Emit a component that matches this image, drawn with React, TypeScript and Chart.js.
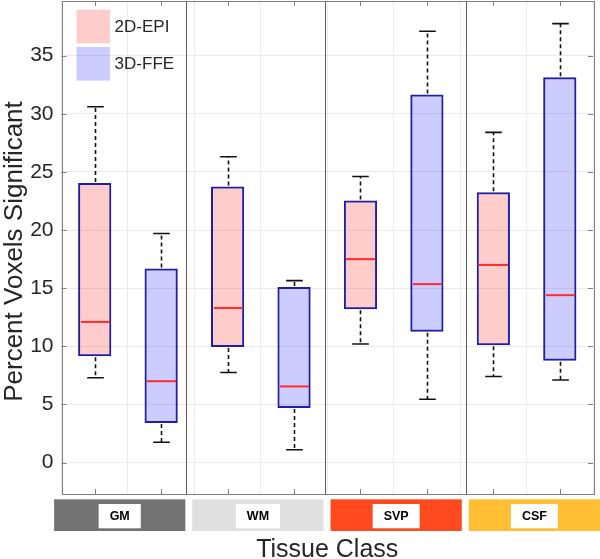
import React, { useEffect, useRef } from 'react';
import { Chart, registerables } from 'chart.js';

Chart.register(...registerables);

// ---------- data ----------
const tissueClasses = ['GM', 'WM', 'SVP', 'CSF'];
const stripColors = ['#737373', '#e0e0e0', '#ff4a1f', '#ffbe33'];
const seriesNames = ['2D-EPI', '3D-FFE'];
const seriesFills = ['rgba(255,0,0,0.2)', 'rgba(0,0,255,0.2)'];

const epiPositions = [1, 3, 5, 7];
const epiLower = [7.3, 7.75, 10.2, 7.4];
const epiQ1 = [9.15, 9.95, 13.2, 10.1];
const epiMedian = [12.1, 13.3, 17.5, 17.0];
const epiQ3 = [24.05, 23.75, 22.55, 23.25];
const epiUpper = [30.6, 26.3, 24.6, 28.4];

const ffePositions = [2, 4, 6, 8];
const ffeLower = [1.75, 1.1, 5.45, 7.1];
const ffeQ1 = [3.4, 4.7, 11.25, 8.75];
const ffeMedian = [7.0, 6.55, 15.35, 14.4];
const ffeQ3 = [16.7, 15.1, 31.65, 33.15];
const ffeUpper = [19.7, 15.65, 37.1, 37.75];

const xTicks = [1, 2, 3, 4, 5, 6, 7, 8];
const yTicks = [0, 5, 10, 15, 20, 25, 30, 35];
const groupSeparators = [2.38, 4.46, 6.59];
const yLabel = 'Percent Voxels Significant';
const xLabel = 'Tissue Class';

const series = [
  { name: seriesNames[0], fill: seriesFills[0], pos: epiPositions, lo: epiLower, q1: epiQ1, med: epiMedian, q3: epiQ3, hi: epiUpper },
  { name: seriesNames[1], fill: seriesFills[1], pos: ffePositions, lo: ffeLower, q1: ffeQ1, med: ffeMedian, q3: ffeQ3, hi: ffeUpper },
];

const FONT = "'Liberation Sans', Arial, Helvetica, sans-serif";
const TEXT = '#262626';
const AXIS = '#7f7f7f';
const BOX_EDGE = '#1e1ea6';

const crisp = (v: number) => Math.round(v) + 0.5;

const boxPlugin = {
  id: 'boxExtras',
  beforeDatasetsDraw(chart: any) {
    const { ctx, chartArea: a, scales } = chart;
    const x = scales.x;
    ctx.save();
    ctx.strokeStyle = '#5a5a5a';
    ctx.lineWidth = 1;
    groupSeparators.forEach((s) => {
      const px = crisp(x.getPixelForValue(s));
      ctx.beginPath();
      ctx.moveTo(px, a.top);
      ctx.lineTo(px, a.bottom);
      ctx.stroke();
    });
    ctx.restore();
  },
  afterDatasetsDraw(chart: any) {
    const { ctx, scales } = chart;
    const x = scales.x;
    const y = scales.y;
    ctx.save();
    series.forEach((s) => {
      s.pos.forEach((p, i) => {
        const cx = crisp(x.getPixelForValue(p));
        const half = x.getPixelForValue(p + 0.25) - x.getPixelForValue(p);
        const cap = x.getPixelForValue(p + 0.125) - x.getPixelForValue(p);
        const yLo = y.getPixelForValue(s.lo[i]);
        const yQ1 = y.getPixelForValue(s.q1[i]);
        const yMed = y.getPixelForValue(s.med[i]);
        const yQ3 = y.getPixelForValue(s.q3[i]);
        const yHi = y.getPixelForValue(s.hi[i]);
        ctx.strokeStyle = '#111111';
        ctx.lineWidth = 1.6;
        ctx.setLineDash([4, 3]);
        ctx.beginPath();
        ctx.moveTo(cx, yQ3 - 1);
        ctx.lineTo(cx, yHi);
        ctx.moveTo(cx, yQ1 + 1);
        ctx.lineTo(cx, yLo);
        ctx.stroke();
        ctx.setLineDash([]);
        ctx.beginPath();
        ctx.moveTo(cx - cap, yHi);
        ctx.lineTo(cx + cap, yHi);
        ctx.moveTo(cx - cap, yLo);
        ctx.lineTo(cx + cap, yLo);
        ctx.stroke();
        ctx.strokeStyle = '#ff2a2a';
        ctx.lineWidth = 2;
        ctx.beginPath();
        ctx.moveTo(cx - half + 2, yMed);
        ctx.lineTo(cx + half - 2, yMed);
        ctx.stroke();
      });
    });
    ctx.restore();
  },
  afterDraw(chart: any) {
    const { ctx, chartArea: a, scales, width, height } = chart;
    const x = scales.x;
    const y = scales.y;
    ctx.save();
    // plot box
    ctx.strokeStyle = AXIS;
    ctx.lineWidth = 1;
    ctx.strokeRect(crisp(a.left), crisp(a.top), Math.round(a.right - a.left), Math.round(a.bottom - a.top));
    // inside tick marks
    ctx.beginPath();
    yTicks.forEach((t) => {
      const py = crisp(y.getPixelForValue(t));
      ctx.moveTo(a.left, py);
      ctx.lineTo(a.left + 5, py);
      ctx.moveTo(a.right, py);
      ctx.lineTo(a.right - 5, py);
    });
    xTicks.forEach((t) => {
      const px = crisp(x.getPixelForValue(t));
      ctx.moveTo(px, a.bottom);
      ctx.lineTo(px, a.bottom - 5);
      ctx.moveTo(px, a.top);
      ctx.lineTo(px, a.top + 5);
    });
    ctx.stroke();

    // legend
    const lx = a.left + 15;
    let ly = a.top + 8.7;
    const sw = 33.6;
    series.forEach((s) => {
      ctx.fillStyle = s.fill;
      ctx.fillRect(lx, ly, sw, sw);
      ctx.fillStyle = TEXT;
      ctx.font = `17px ${FONT}`;
      ctx.textAlign = 'left';
      ctx.textBaseline = 'middle';
      ctx.fillText(s.name, lx + sw + 4.5, ly + sw / 2 + 1);
      ly += sw + 3.7;
    });

    // tissue class strips
    const gap = 7;
    const stripLeft = a.left - 7.4;
    const stripW = (width - stripLeft - gap * 3) / 4;
    const stripTop = a.bottom + 5.3;
    const stripH = 31.7;
    tissueClasses.forEach((name, i) => {
      const sx = stripLeft + i * (stripW + gap);
      ctx.fillStyle = stripColors[i];
      ctx.fillRect(sx, stripTop, stripW, stripH);
      ctx.font = `bold 12.5px ${FONT}`;
      const tw = ctx.measureText(name).width;
      const bw = tw + 22;
      const bx = sx + stripW / 2 - bw / 2;
      ctx.fillStyle = '#ffffff';
      ctx.fillRect(bx, stripTop + 4.7, bw, 24.3);
      ctx.fillStyle = '#000000';
      ctx.textAlign = 'center';
      ctx.textBaseline = 'middle';
      ctx.fillText(name, sx + stripW / 2, stripTop + 4.7 + 12.5);
    });

    // axis titles
    ctx.fillStyle = TEXT;
    ctx.font = `25px ${FONT}`;
    ctx.textAlign = 'center';
    ctx.textBaseline = 'alphabetic';
    ctx.fillText(xLabel, (a.left + a.right) / 2, height - 2.5);
    ctx.save();
    ctx.translate(21.5, (a.top + a.bottom) / 2 + 4);
    ctx.rotate(-Math.PI / 2);
    ctx.font = `26px ${FONT}`;
    ctx.fillText(yLabel, 0, 0);
    ctx.restore();
    ctx.restore();
  },
};

export default function App() {
  const canvasRef = useRef<HTMLCanvasElement | null>(null);

  useEffect(() => {
    document.body.style.margin = '0';
    const canvas = canvasRef.current;
    if (!canvas) return;
    const chart = new Chart(canvas, {
      type: 'bar',
      data: {
        datasets: series.map((s) => ({
          label: s.name,
          data: s.pos.map((p, i) => ({ x: p, y: [s.q1[i], s.q3[i]] })),
          backgroundColor: s.fill,
          borderColor: BOX_EDGE,
          borderWidth: 2,
          borderSkipped: false,
          grouped: false,
          barPercentage: 0.5,
          categoryPercentage: 1,
        })) as any,
      },
      options: {
        responsive: false,
        animation: false,
        devicePixelRatio: 1,
        layout: { padding: { top: 1, right: 7, left: 0, bottom: 0 } },
        plugins: {
          legend: { display: false },
          tooltip: { enabled: false },
          title: { display: false },
        },
        scales: {
          x: {
            type: 'linear',
            min: 0.5,
            max: 8.5,
            offset: false,
            grid: { color: '#ebebeb', lineWidth: 1, drawTicks: false },
            border: { display: false },
            ticks: { display: false },
            afterBuildTicks: (s: any) => {
              s.ticks = xTicks.map((v) => ({ value: v }));
            },
            afterFit: (s: any) => {
              s.height = 65;
              s.paddingLeft = 0;
              s.paddingRight = 0;
            },
          },
          y: {
            type: 'linear',
            min: -2.7,
            max: 39.7,
            grid: { color: '#ebebeb', lineWidth: 1, drawTicks: false },
            border: { display: false },
            ticks: {
              color: TEXT,
              padding: 8,
              font: { family: FONT, size: 21 },
            },
            afterBuildTicks: (s: any) => {
              s.ticks = yTicks.map((v) => ({ value: v }));
            },
            afterFit: (s: any) => {
              s.width = 61.5;
              s.paddingTop = 0;
              s.paddingBottom = 0;
            },
          },
        },
      } as any,
      plugins: [boxPlugin],
    });
    return () => chart.destroy();
  }, []);

  return (
    <div style={{ width: 600, height: 559, position: 'relative' }}>
      <canvas ref={canvasRef} width={600} height={559} style={{ display: 'block' }} />
    </div>
  );
}
